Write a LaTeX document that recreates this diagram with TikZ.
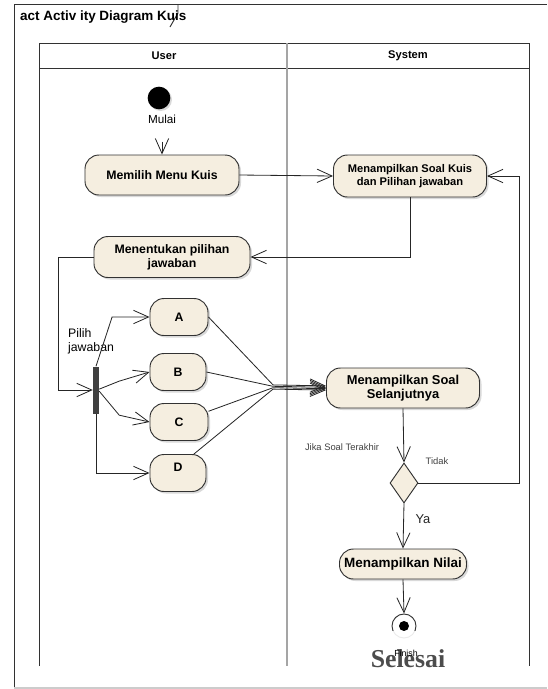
\documentclass[tikz,border=0pt]{standalone}
\usepackage{fontspec}
\setmainfont{Liberation Sans}
\newfontfamily\selfont{Liberation Serif}
\usetikzlibrary{arrows.meta,shadows,shapes.geometric}

\definecolor{actfill}{RGB}{245,238,224}
\definecolor{actline}{RGB}{50,50,50}
\definecolor{lanegray}{RGB}{165,165,165}

\tikzset{
  act/.style={draw=actline, line width=0.8pt, fill=actfill, rounded corners=0.42cm,
    align=center, font=\fontsize{10.5}{12}\selectfont\bfseries, inner sep=2pt,
    drop shadow={shadow xshift=0.6mm, shadow yshift=-0.6mm, opacity=0.3}},
  arr/.style={-{Straight Barb[length=4.5mm,width=4mm]}, line width=0.7pt, draw=black!85},
  lbl/.style={font=\fontsize{8}{9.5}\selectfont, text=black!75},
}

\begin{document}
\begin{tikzpicture}[x=0.03cm, y=-0.03cm]
		\useasboundingbox (0,0) rectangle (547,689);
		% Draw the frame and its tab
		\draw[actline, line width=0.8pt] (14,689) -- (14,4) -- (547,4);
		\draw[actline, line width=0.8pt] (178,4) -- (178,13) -- (170,27);
		\draw[black!20, line width=1pt] (14,688) -- (547,688);
		\node[anchor=west, font=\fontsize{11.5}{13}\selectfont\bfseries] (title) at (16,17) {act Activ ity Diagram Kuis};
		% Draw the swimlanes
		\draw[actline, line width=0.8pt] (39,666) -- (39,43) -- (529,43) -- (529,666);
		\draw[actline, line width=0.8pt] (39,68) -- (529,68);
		\draw[lanegray, line width=1pt] (287,43) -- (287,666);
		\node[font=\fontsize{9.5}{11}\selectfont\bfseries] (user) at (164,56) {User};
		\node[font=\fontsize{9.5}{11}\selectfont\bfseries] (system) at (408,56) {System};
		% Start node
		\node[circle, fill=black, minimum size=0.68cm, inner sep=0pt,
		  drop shadow={shadow xshift=0.5mm, shadow yshift=-0.5mm, opacity=0.3}] (start) at (159,98) {};
		\node[font=\fontsize{10}{12}\selectfont] (mulai) at (162,119) {Mulai};
		% Activities
		\node[act, minimum width=4.62cm, minimum height=1.2cm] (memilih) at (162,175) {Memilih Menu Kuis};
		\node[act, minimum width=4.59cm, minimum height=1.26cm, font=\fontsize{9.5}{11}\selectfont\bfseries] (soalkuis) at (410,176) {Menampilkan Soal Kuis\\ dan Pilihan jawaban};
		\node[act, minimum width=4.68cm, minimum height=1.23cm] (menentukan) at (172,257) {Menentukan pilihan\\jawaban};
		\node[fill=black!75, minimum width=0.18cm, minimum height=1.41cm, inner sep=0pt] (fork) at (96,390) {};
		\node[anchor=west, align=left, font=\fontsize{10.5}{12}\selectfont] (pilih) at (64,341) {Pilih\\jawaban};
		\node[act, minimum width=1.74cm, minimum height=1.11cm] (a) at (179,317) {A};
		\node[act, minimum width=1.68cm, minimum height=1.11cm] (b) at (178,372) {B};
		\node[act, minimum width=1.74cm, minimum height=1.11cm] (c) at (179,422) {C};
		\node[act, minimum width=1.68cm, minimum height=1.11cm, text depth=10pt] (d) at (178,473) {D};
		\coordinate (j) at (273,387);
		\node[act, minimum width=4.59cm, minimum height=1.2cm, font=\fontsize{11}{12.5}\selectfont\bfseries] (lanjut) at (403,388) {Menampilkan Soal\\Selanjutnya};
		\node[diamond, draw=actline, line width=0.8pt, fill=actfill, minimum width=0.84cm, minimum height=1.2cm, inner sep=0pt] (cek) at (404,483) {};
		\node[lbl] (jika) at (342,447) {Jika Soal Terakhir};
		\node[lbl] (tidak) at (437,461) {Tidak};
		\node[font=\fontsize{11}{13}\selectfont, text=black!85] (ya) at (423,519) {Ya};
		\node[act, minimum width=3.81cm, minimum height=0.9cm, font=\fontsize{11.5}{13}\selectfont\bfseries] (nilai) at (403,564) {Menampilkan Nilai};
		% Final node
		\node[circle, draw=actline, line width=0.8pt, minimum size=0.72cm, inner sep=0pt] (finish) at (404,626) {};
		\node[circle, fill=black, minimum size=0.3cm, inner sep=0pt] (finishdot) at (finish) {};
		\node[fill=white, fill opacity=0.9, text opacity=1, minimum height=1.7cm, inner sep=1pt,
		  font=\selfont\fontsize{22}{24}\selectfont\bfseries, text=black!70] (selesai) at (408,659) {Selesai};
		\node[font=\fontsize{7.5}{8.5}\selectfont] (finishlbl) at (406,653) {Finish};
		% Draw the flows
		\draw[arr, shorten <=12pt] (mulai.south) -- (memilih.north);
		\draw[arr] (memilih.east) -- (soalkuis.west);
		\draw[arr] (soalkuis.south) |- (menentukan.east);
		\draw[arr] (menentukan.west) -- ++(-35,0) |- (fork.west);
		\draw[arr] (fork.north) -- ++(16,-49) |- (a.west);
		\draw[arr] (fork.15) -- ++(20,-8) -- (b.west);
		\draw[arr] (fork.-20) -- ++(20,24) -- (c.west);
		\draw[arr] (fork.south) |- (d.west);
		\draw[arr] (a.east) -- ([yshift=1.8pt]j) -- ([yshift=1.8pt]lanjut.west);
		\draw[arr] (b.east) -- ([yshift=0.6pt]j) -- ([yshift=0.6pt]lanjut.west);
		\draw[arr] (c.20) -- ([yshift=-0.6pt]j) -- ([yshift=-0.6pt]lanjut.west);
		\draw[arr] (d.50) -- ([yshift=-1.8pt]j) -- ([yshift=-1.8pt]lanjut.west);
		\draw[arr] (lanjut.south) -- (cek.north);
		\draw[arr] (cek.east) -- ++(101,0) |- (soalkuis.east);
		\draw[arr] (cek.south) -- (nilai.north);
		\draw[arr] (nilai.south) -- (finish.north);
\end{tikzpicture}
\end{document}
